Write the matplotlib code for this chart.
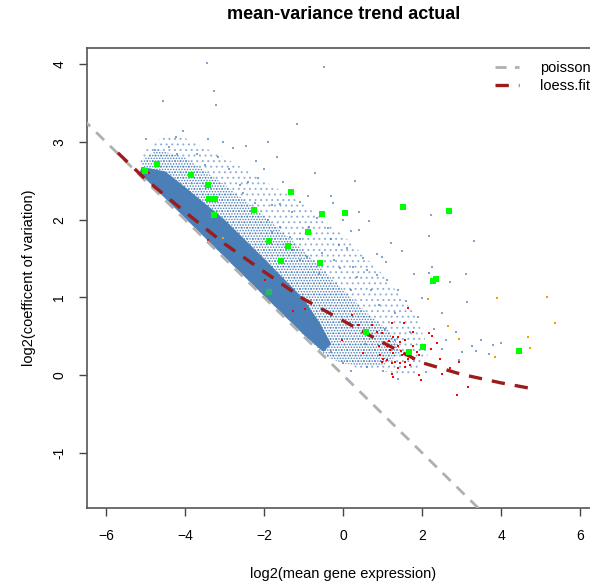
import numpy as np
import matplotlib
matplotlib.use("Agg")
from matplotlib import pyplot as plt

plt.rcParams['font.family'] = ['Liberation Sans', 'DejaVu Sans']
plt.rcParams['hatch.linewidth'] = 0.7

# poisson reference and loess fit
poisson_x = [-6.6, 3.6]
poisson_y = [3.3, -1.8]
loess_x = [-5.7, -5.0, -4.0, -3.0, -2.0, -1.0, 0.0, 1.0, 2.0, 3.0, 4.0, 4.85]
loess_y = [2.86, 2.52, 2.1, 1.69, 1.33, 0.98, 0.7, 0.42, 0.16, 0.01, -0.1, -0.18]

# dense core of the gene cloud (outline)
core_x = [-5.15, -4.0, -3.0, -2.0, -1.0, -0.5, -0.3, -0.6, -1.0, -2.0, -3.0, -4.0, -4.5, -5.1]
core_y = [2.6, 2.02, 1.52, 1.02, 0.52, 0.3, 0.4, 0.68, 0.98, 1.5, 2.0, 2.42, 2.62, 2.68]

# medium density halo (outline)
halo_x = [-5.15, -4.7, -4.0, -3.0, -2.0, -1.0, 0.0, 0.6, 1.2, 1.5, 1.0, 0.5, 0.0, -0.4, -1.0, -2.0, -3.0, -4.0]
halo_y = [2.75, 2.9, 2.8, 2.45, 2.05, 1.6, 1.1, 0.8, 0.55, 0.3, 0.12, 0.12, 0.15, 0.23, 0.52, 1.02, 1.52, 2.02]

# sparse outskirts (outline)
outer_x = [-5.1, -4.5, -4.0, -3.0, -2.0, -1.0, 0.0, 1.0, 1.8, 2.2, 1.8, 1.0, 0.3, -0.4, -1.0, -2.0, -3.0, -4.0]
outer_y = [2.85, 3.1, 3.05, 2.8, 2.5, 2.2, 1.8, 1.3, 0.8, 0.3, 0.0, 0.05, 0.1, 0.23, 0.52, 1.02, 1.52, 2.02]

# scattered genes
blue_x = [-3.44, -0.48, -3.27, -3.22, -4.56, -1.16, -4.99, -4.05, -3.42, -4.23, -4.4, -1.67, -2.46, -3.16,
          -2.78, -1.52, -2.15, -2.4, -1.09, -0.25, 0.66, 0.41, -0.38, -0.86, -0.10, 0.1, -0.53, -0.22,
          0.86, 0.98, 1.09, 0.51, 0.25, -0.08, -0.91, -1.09, -1.27, -1.34, -1.59, -1.8, -1.9, -2.23,
          -1.8, -2.53, -0.66, 0.35, 0.61, 0.86, 1.11, 2.23, 2.18, 3.32, 2.25, 2.18, 2.0, 3.14, 3.27,
          3.8, 3.37, 3.7, 2.5, 2.94, 2.1, -2.9, -3.7, -2.0, -1.3, -0.9, -0.3, 0.2, 1.4, 1.6, 1.9, 1.3,
          0.9, 1.7, 2.3, 2.6, 0.7, 0.2, -0.6, -1.1, -1.6, -2.6, -3.5, -4.2, -4.75, -2.2, -3.05, 0.2,
          0.6, 1.0, 1.4, -0.3, 0.0, 0.4, 1.2, 1.05, 0.55, 1.3, 2.5, 2.85, 3.0, 4.0, 3.5, -0.3, 1.8,
          2.7, 3.1, 1.5, 0.0, -1.9, -0.7, 0.3]
blue_y = [4.02, 3.97, 3.66, 3.47, 3.53, 3.23, 3.04, 3.14, 3.04, 3.07, 2.94, 2.8, 2.95, 2.8,
          2.92, 2.49, 2.54, 2.49, 2.23, 2.22, 1.98, 1.87, 1.89, 1.91, 1.68, 1.64, 1.57, 1.48,
          1.56, 1.52, 1.46, 1.51, 1.39, 1.38, 1.52, 1.48, 1.61, 1.78, 1.91, 1.84, 2.0, 2.22,
          2.19, 2.34, 2.02, 1.26, 1.35, 1.29, 1.22, 2.06, 1.79, 1.73, 1.39, 1.31, 0.99, 0.94, 0.37,
          0.39, 0.31, 0.27, 0.34, 0.19, 0.04, 2.65, 2.85, 2.65, 2.1, 2.3, 1.75, 1.85, 1.1, 0.95, 0.75, 0.8,
          0.9, 0.55, 0.6, 0.45, 1.1, 1.1, 1.3, 1.75, 2.2, 2.45, 2.7, 2.85, 2.9, 2.75, 3.0, 0.05,
          0.1, 0.05, -0.05, 0.3, 0.15, 2.1, 1.7, 0.6, 0.4, 0.45, 0.8, 0.55, 0.3, 0.42, 0.45, 2.3, 1.3,
          1.2, 1.3, 1.6, 2.0, 3.0, 2.6, 2.5]

red_x = [0.22, 0.39, 0.73, 0.85, -0.02, 0.51, 0.98, 1.16, 1.26, 1.40, 1.44, 1.57, 1.76, 2.16, 2.25,
         2.37, 1.11, 1.19, 1.27, 1.40, 1.46, 1.48, 1.57, 1.70, 1.78, 1.88, 1.91, 1.99, 2.23, 0.94,
         1.02, 1.12, 1.23, 1.32, 1.44, 1.57, 1.65, 1.76, 1.40, 1.57, 1.70, 1.23, 1.27, 1.93, 1.97,
         2.46, 2.71, 2.92, 2.51, 3.17, 1.65, 1.23, 1.53, 0.98, 0.90, -4.91, -3.42, -1.97, -1.27,
         -0.96, 0.38, 2.89]
red_y = [0.77, 0.65, 0.65, 0.56, 0.45, 0.29, 0.54, 0.44, 0.49, 0.49, 0.43, 0.45, 0.55, 0.54, 0.50,
         0.42, 0.37, 0.33, 0.28, 0.37, 0.31, 0.26, 0.27, 0.28, 0.37, 0.30, 0.26, 0.34, 0.34, 0.26,
         0.21, 0.19, 0.15, 0.17, 0.15, 0.17, 0.21, 0.21, 0.09, 0.11, 0.13, 0.02, -0.03, 0.0, -0.06,
         0.21, 0.09, 0.17, 0.02, -0.15, 0.86, 0.67, 0.67, 0.17, 0.38, 2.6, 1.74, 1.22, 0.82,
         0.85, 0.64, -0.25]

orange_x = [2.15, 3.9, 5.16, 5.37, 2.66, 2.94, 4.68, 4.73, 3.85, -3.04]
orange_y = [0.98, 0.99, 1.01, 0.67, 0.63, 0.46, 0.49, 0.35, 0.23, 1.77]

green_x = [-5.01, -4.71, -3.85, -3.42, -3.39, -3.24, -3.27, -2.25, -1.87, -1.32, -0.53, 0.05, -0.89,
           -1.39, -1.57, -0.58, 1.52, 2.68, 2.28, 2.35, 2.03, 4.46, 0.58, 1.67]
green_y = [2.63, 2.71, 2.58, 2.44, 2.27, 2.27, 2.06, 2.13, 1.73, 2.36, 2.07, 2.09, 1.84,
           1.66, 1.47, 1.44, 2.16, 2.11, 1.21, 1.24, 0.36, 0.31, 0.55, 0.30]
hidden_green_x = [-1.87]
hidden_green_y = [1.07]

blue = '#4a7fb8'

fig = plt.figure(figsize=(5.9, 5.84), dpi=100)
ax = fig.add_axes([0.1475, 0.130, 0.8695, 0.788])

ax.fill(outer_x, outer_y, facecolor='none', edgecolor='#8fb0d6', hatch='...', linewidth=0, zorder=2)
ax.fill(halo_x, halo_y, facecolor='none', edgecolor=blue, hatch='......', linewidth=0, zorder=2)
ax.fill(core_x, core_y, color=blue, linewidth=0, zorder=2)
ax.scatter(hidden_green_x, hidden_green_y, s=22, marker='s', color='#00ff00', alpha=0.45, zorder=2.5, linewidths=0)
ax.scatter(blue_x, blue_y, s=2.5, marker='s', color=blue, alpha=0.7, linewidths=0, zorder=2)
ax.scatter(red_x, red_y, s=4.5, marker='s', color='#ff0000', linewidths=0, zorder=3)
ax.scatter(orange_x, orange_y, s=3.5, marker='s', color='#ff9900', linewidths=0, zorder=3)
ax.plot(poisson_x, poisson_y, color='#b0b0b0', lw=2, dashes=(4, 3), label='poisson', zorder=4)
ax.plot(loess_x, loess_y, color='#9b1c1c', lw=2.4, dashes=(4, 3), label='loess.fit', zorder=4)
ax.scatter(green_x, green_y, s=22, marker='s', color='#00ff00', zorder=5, linewidths=0)

ax.set_xlim(-6.48, 6.5)
ax.set_ylim(-1.71, 4.21)
ax.set_xticks([-6, -4, -2, 0, 2, 4, 6])
ax.set_yticks([-1, 0, 1, 2, 3, 4])
ax.set_yticklabels(['-1', '0', '1', '2', '3', '4'], rotation=90, va='center')
ax.tick_params(direction='out', length=6, width=1, color='#444444', labelsize=10, pad=9)
for s in ax.spines.values():
    s.set_color('#555555')
    s.set_linewidth(1.2)

ax.set_title('mean-variance trend actual', fontsize=13, fontweight='bold', pad=21)
ax.set_xlabel('log2(mean gene expression)', fontsize=10.5, labelpad=17)
ax.set_ylabel('log2(coefficent of variation)', fontsize=10.5, labelpad=12)

ax.legend(loc='upper left', bbox_to_anchor=(0.769, 1.0), frameon=False, fontsize=10.5,
          handlelength=1.7, handletextpad=1.4, labelspacing=0.3)

fig.savefig('out.png', dpi=100)
